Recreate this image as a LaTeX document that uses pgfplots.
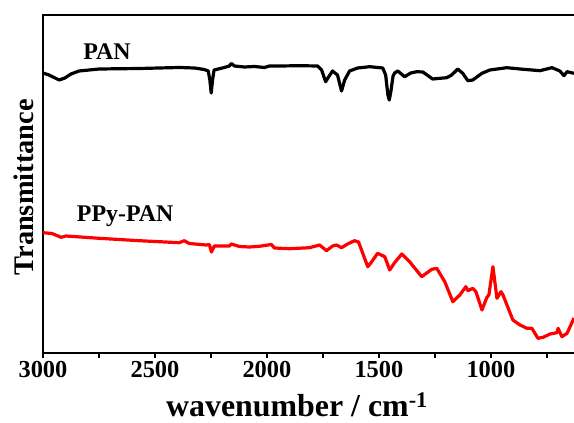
\documentclass[border=0pt]{standalone}
\usepackage{fontspec}
\setmainfont{Liberation Serif}
\usepackage{pgfplots}
\pgfplotsset{compat=1.18}
\begin{document}
\begin{tikzpicture}
\begin{axis}[
  name=ax,
  scale only axis, width=537.5bp, height=338bp,
  x dir=reverse, xmin=600, xmax=3000, ymin=-353, ymax=-15,
  xtick={1000,1500,2000,2500,3000},
  minor xtick={750,1250,1750,2250,2750},
  ytick=\empty,
  xtick pos=left,
  tick align=outside,
  major tick length=5bp, minor tick length=5bp,
  every tick/.style={black, line width=1.8bp},
  axis line style={line width=2.4bp},
  /pgf/number format/assume math mode=true,
  /pgf/number format/set thousands separator={},
  xticklabel style={font=\bfseries\fontsize{24.5}{25}\selectfont},
  xlabel={wavenumber / cm\textsuperscript{-1}},
  ylabel={Transmittance},
  xlabel style={font=\bfseries\fontsize{32}{34}\selectfont, at={(axis description cs:0.4726,0)}, anchor=base, yshift=-63bp},
  ylabel style={font=\bfseries\fontsize{28.5}{30}\selectfont, at={(axis description cs:-0.0353,0.49)}, anchor=center},
  clip=true,
]
\addplot[black, line width=3.2bp, line join=round] coordinates {
(3000,-73) (2973,-75) (2928,-80) (2902,-78) (2875,-74) (2839,-71) (2749,-69) (2570,-68.5) (2392,-67.5) (2324,-68) (2280,-69.5) (2262,-71) (2255,-80) (2249,-93) (2243,-80) (2236,-70) (2190,-67.5) (2168,-66) (2159,-63.5) (2145,-66) (2101,-67) (2056,-66.5) (2011,-67.5) (1989,-66) (1944,-66) (1855,-65.7) (1774,-66) (1756,-70) (1738,-81.7) (1725,-77) (1707,-71) (1685,-75) (1667,-91) (1653,-80) (1631,-71) (1595,-68) (1541,-66.7) (1483,-68) (1470,-75) (1460,-95) (1454,-100) (1447,-92) (1437,-76) (1430,-73) (1416,-71) (1385,-76.7) (1358,-73) (1331,-71.7) (1304,-72) (1260,-79) (1197,-77.7) (1175,-75) (1148,-69) (1126,-73.3) (1103,-80.7) (1081,-80) (1040,-73.3) (1005,-70) (929,-67.7) (870,-69) (781,-70.7) (727,-67.7) (692,-71) (674,-75.7) (660,-71.7) (629,-73.3)
};
\addplot[red, line width=3.2bp, line join=round] coordinates {
(3000,-232.7) (2960,-233.5) (2919,-237.3) (2897,-236) (2749,-238.3) (2570,-240.7) (2392,-242.7) (2369,-240.7) (2347,-243.5) (2271,-245) (2257,-244.5) (2248,-252) (2235,-246) (2168,-246) (2159,-244) (2123,-246.5) (2078,-247) (2034,-246.3) (1980,-244.5) (1967,-248) (1899,-248.7) (1810,-247.7) (1765,-245) (1734,-250.7) (1707,-246) (1689,-245) (1667,-247.7) (1640,-244) (1609,-240.7) (1591,-242) (1550,-266.7) (1533,-262) (1506,-253.3) (1474,-256.7) (1452,-270) (1430,-262.7) (1398,-254) (1363,-261.7) (1309,-276.7) (1264,-269.3) (1242,-268.3) (1206,-281.7) (1170,-301.7) (1139,-295) (1112,-286.7) (1103,-290.7) (1081,-288.3) (1067,-291.7) (1040,-310) (1018,-297.3) (1009,-295) (991,-266.7) (973,-298.3) (955,-291.7) (946,-295) (902,-320) (870,-325) (839,-328.3) (817,-328.3) (790,-338.3) (767,-337.3) (736,-334) (705,-332.7) (700,-328.3) (683,-336.7) (660,-333.3) (629,-318)
};
\node[font=\bfseries\fontsize{24}{24}\selectfont] at (axis cs:2714,-52) {PAN};
\node[font=\bfseries\fontsize{24}{24}\selectfont] at (axis cs:2633,-216) {PPy-PAN};
\end{axis}
\pgfresetboundingbox
\path[use as bounding box] ([shift={(-43bp,-70bp)}]ax.south west) rectangle ([shift={(531bp,15bp)}]ax.north west);
\end{tikzpicture}
\end{document}
